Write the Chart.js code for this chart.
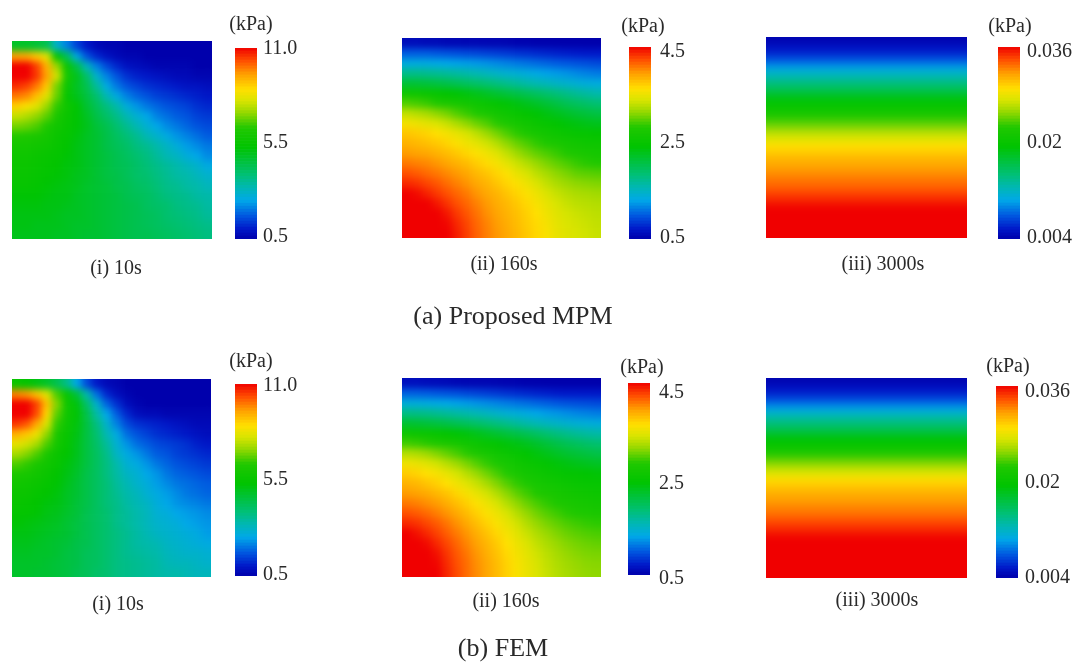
<!DOCTYPE html>
<html>
<head>
<meta charset="utf-8">
<title>Pore pressure contours</title>
<script src="https://cdn.jsdelivr.net/npm/chart.js@4/dist/chart.umd.min.js"></script>
<style>
    html, body { margin: 0; padding: 0; background: #fff; }
    #page { position: relative; width: 1080px; height: 667px; overflow: hidden; font-family: "Liberation Serif", serif; color: #2a2a2a; }
    .panel { position: absolute; overflow: hidden; }
    .panel canvas { position: absolute; filter: blur(3.5px); }
    .bar { position: absolute; }
    .bar canvas { filter: blur(0.4px); }
    .label { position: absolute; white-space: nowrap; transform: translate(-50%, -50%); filter: blur(0.4px); }
</style>
</head>
<body>
<div id="page"></div>
<script>
// Pressure values in kPa. Rows run top to bottom, columns left to right.
const mpm10s = [
    [5.0,5.0,4.8,4.5,3.0,2.2,1.5,1.0,0.7,0.6,0.6,0.5,0.5,0.5,0.5,0.5,0.5,0.5,0.5,0.5],
    [9.5,9.4,9.0,8.2,5.6,4.4,2.7,1.7,1.2,0.9,0.7,0.6,0.6,0.5,0.5,0.5,0.5,0.5,0.5,0.5],
    [11.0,11.0,10.4,9.3,7.5,5.9,4.6,3.2,2.2,1.6,1.2,0.9,0.8,0.7,0.6,0.6,0.6,0.6,0.5,0.5],
    [11.0,11.0,10.5,9.5,8.0,6.2,5.2,4.2,3.0,2.2,1.7,1.3,1.1,1.0,0.9,0.8,0.7,0.7,0.6,0.6],
    [10.6,10.4,9.9,9.0,7.2,5.9,5.1,4.5,3.6,2.7,2.1,1.7,1.5,1.3,1.2,1.1,1.0,0.9,0.9,0.8],
    [9.9,9.7,9.1,8.2,7.1,5.7,5.2,4.7,4.1,3.3,2.7,2.2,1.9,1.7,1.5,1.4,1.3,1.2,1.1,1.0],
    [8.9,8.6,8.2,7.5,6.7,6.0,5.5,4.9,4.4,3.9,3.4,2.8,2.4,2.1,1.9,1.7,1.6,1.5,1.3,1.2],
    [7.9,7.7,7.4,7.0,6.4,5.9,5.5,5.1,4.6,4.2,3.8,3.3,2.9,2.6,2.2,2.0,1.8,1.7,1.5,1.4],
    [7.2,7.1,6.9,6.5,6.1,5.8,5.5,5.2,4.8,4.5,4.1,3.7,3.3,2.9,2.6,2.3,2.1,1.9,1.7,1.6],
    [6.6,6.5,6.4,6.2,5.9,5.7,5.4,5.1,4.9,4.6,4.3,4.0,3.7,3.3,3.0,2.7,2.4,2.2,2.0,1.8],
    [6.2,6.2,6.1,6.0,5.8,5.6,5.3,5.1,4.9,4.6,4.4,4.2,3.9,3.7,3.4,3.1,2.8,2.5,2.3,2.1],
    [6.0,6.0,5.9,5.8,5.7,5.5,5.3,5.1,4.9,4.7,4.5,4.3,4.1,3.9,3.6,3.3,3.1,2.8,2.6,2.3],
    [5.9,5.9,5.8,5.7,5.6,5.4,5.3,5.1,4.9,4.7,4.5,4.4,4.2,4.0,3.8,3.6,3.4,3.2,3.0,2.7],
    [5.8,5.8,5.7,5.6,5.5,5.4,5.2,5.1,4.9,4.7,4.6,4.4,4.2,4.1,3.9,3.7,3.5,3.4,3.2,3.0],
    [5.7,5.7,5.6,5.5,5.4,5.3,5.2,5.0,4.9,4.8,4.6,4.5,4.3,4.2,4.0,3.8,3.7,3.5,3.4,3.2],
    [5.5,5.5,5.5,5.4,5.3,5.3,5.1,5.0,4.9,4.8,4.7,4.5,4.4,4.3,4.1,3.9,3.8,3.7,3.5,3.4],
    [5.4,5.4,5.4,5.3,5.3,5.2,5.1,5.0,4.9,4.8,4.7,4.6,4.5,4.3,4.2,4.1,3.9,3.8,3.7,3.5],
    [5.3,5.3,5.3,5.3,5.2,5.1,5.1,5.0,4.9,4.8,4.7,4.6,4.5,4.4,4.3,4.1,4.0,3.9,3.8,3.6],
    [5.3,5.3,5.2,5.2,5.2,5.1,5.0,5.0,4.9,4.8,4.7,4.6,4.5,4.4,4.3,4.2,4.1,4.0,3.9,3.8],
    [5.2,5.2,5.2,5.2,5.1,5.1,5.0,4.9,4.9,4.8,4.7,4.6,4.5,4.5,4.4,4.3,4.2,4.1,4.0,3.9]
];

const mpm160s = [
    [0.60,0.60,0.58,0.58,0.56,0.56,0.55,0.55,0.54,0.54,0.53,0.52,0.52,0.51,0.51,0.50,0.50,0.50,0.50,0.50],
    [1.00,1.00,1.00,0.98,0.96,0.94,0.92,0.90,0.88,0.86,0.84,0.82,0.80,0.78,0.76,0.74,0.72,0.71,0.70,0.70],
    [1.35,1.35,1.34,1.32,1.30,1.28,1.26,1.24,1.21,1.18,1.15,1.12,1.09,1.06,1.03,1.00,0.98,0.96,0.94,0.92],
    [1.75,1.75,1.73,1.71,1.68,1.65,1.61,1.57,1.52,1.47,1.43,1.40,1.36,1.32,1.28,1.25,1.22,1.18,1.15,1.12],
    [2.15,2.14,2.12,2.09,2.05,2.00,1.95,1.90,1.85,1.80,1.74,1.68,1.62,1.57,1.53,1.48,1.44,1.40,1.37,1.35],
    [2.60,2.58,2.55,2.50,2.45,2.40,2.35,2.30,2.24,2.18,2.12,2.06,2.00,1.94,1.88,1.82,1.76,1.70,1.65,1.60],
    [2.95,2.92,2.88,2.82,2.76,2.70,2.64,2.58,2.52,2.46,2.40,2.34,2.28,2.22,2.15,2.08,2.00,1.95,1.90,1.85],
    [3.30,3.25,3.20,3.12,3.05,2.95,2.88,2.80,2.72,2.65,2.58,2.52,2.46,2.40,2.34,2.28,2.22,2.16,2.12,2.08],
    [3.55,3.50,3.45,3.40,3.32,3.22,3.12,3.02,2.94,2.84,2.76,2.68,2.62,2.56,2.50,2.44,2.38,2.34,2.30,2.28],
    [3.75,3.72,3.68,3.62,3.55,3.47,3.38,3.28,3.16,3.05,2.94,2.85,2.77,2.70,2.64,2.58,2.54,2.50,2.48,2.46],
    [3.85,3.82,3.78,3.74,3.68,3.60,3.52,3.45,3.35,3.25,3.12,3.02,2.94,2.86,2.80,2.74,2.68,2.64,2.60,2.58],
    [3.95,3.92,3.90,3.85,3.80,3.74,3.67,3.60,3.52,3.42,3.30,3.18,3.08,3.00,2.94,2.88,2.82,2.76,2.72,2.68],
    [4.08,4.05,4.02,3.97,3.91,3.85,3.80,3.72,3.65,3.56,3.45,3.34,3.25,3.15,3.07,3.00,2.94,2.88,2.84,2.82],
    [4.22,4.18,4.13,4.08,4.02,3.96,3.90,3.82,3.76,3.68,3.60,3.48,3.38,3.28,3.20,3.12,3.06,3.00,2.98,2.96],
    [4.36,4.32,4.26,4.20,4.12,4.05,3.98,3.90,3.84,3.76,3.68,3.60,3.50,3.40,3.30,3.22,3.16,3.12,3.10,3.08],
    [4.50,4.46,4.38,4.30,4.22,4.14,4.07,3.98,3.90,3.84,3.76,3.68,3.60,3.50,3.40,3.32,3.26,3.22,3.20,3.18],
    [4.50,4.50,4.50,4.42,4.32,4.22,4.14,4.05,3.96,3.88,3.82,3.74,3.66,3.57,3.47,3.38,3.32,3.28,3.26,3.24],
    [4.50,4.50,4.50,4.50,4.42,4.30,4.20,4.10,4.00,3.92,3.85,3.78,3.70,3.62,3.52,3.43,3.37,3.33,3.30,3.28],
    [4.50,4.50,4.50,4.50,4.48,4.36,4.25,4.14,4.04,3.95,3.88,3.80,3.72,3.65,3.56,3.46,3.40,3.36,3.33,3.30],
    [4.50,4.50,4.50,4.50,4.50,4.40,4.28,4.16,4.06,3.97,3.90,3.82,3.74,3.66,3.58,3.48,3.42,3.38,3.35,3.32]
];

const mpm3000s = [
    0.0043,0.0050,0.0056,0.0066,0.0078,0.0094,0.0110,0.0123,0.0136,0.0149,
    0.0162,0.0178,0.0190,0.0200,0.0210,0.0222,0.0232,0.0242,0.0254,0.0267,
    0.0277,0.0290,0.0296,0.0302,0.0309,0.0312,0.0318,0.0322,0.0328,0.0331,
    0.0338,0.0344,0.0350,0.0357,0.0360,0.0360,0.0360,0.0360,0.0360,0.0360
];

const fem10s = [
    [5.8,5.6,5.3,5.0,4.5,3.8,2.6,1.6,1.0,0.7,0.6,0.5,0.5,0.5,0.5,0.5,0.5,0.5,0.5,0.5],
    [9.8,9.6,9.1,8.2,6.9,5.8,4.8,3.4,2.0,1.2,0.8,0.6,0.5,0.5,0.5,0.5,0.5,0.5,0.5,0.5],
    [11.0,11.0,10.4,9.1,7.3,6.0,5.4,4.2,3.0,1.9,1.3,0.8,0.6,0.5,0.5,0.5,0.5,0.5,0.5,0.5],
    [11.0,11.0,10.3,8.8,7.0,6.0,5.5,4.6,3.5,2.6,1.8,1.2,0.8,0.7,0.7,0.6,0.6,0.6,0.6,0.6],
    [10.5,10.2,9.4,8.1,6.7,5.9,5.4,4.7,3.9,3.0,2.2,1.6,1.3,1.2,1.1,1.0,0.9,0.8,0.7,0.7],
    [9.3,9.0,8.4,7.4,6.4,5.8,5.3,4.7,4.1,3.3,2.7,2.0,1.7,1.5,1.3,1.2,1.1,1.0,0.9,0.8],
    [8.3,8.0,7.6,6.9,6.2,5.7,5.2,4.7,4.2,3.6,2.9,2.4,2.0,1.8,1.6,1.5,1.4,1.3,1.1,1.0],
    [7.6,7.3,6.9,6.4,5.9,5.6,5.2,4.7,4.3,3.8,3.1,2.7,2.4,2.1,1.8,1.7,1.5,1.4,1.3,1.2],
    [6.9,6.7,6.4,6.1,5.8,5.4,5.1,4.7,4.3,3.9,3.4,2.9,2.7,2.4,2.1,1.9,1.7,1.6,1.5,1.4],
    [6.4,6.3,6.1,5.9,5.6,5.3,5.0,4.6,4.3,3.9,3.5,3.1,2.9,2.6,2.4,2.1,1.9,1.8,1.7,1.6],
    [6.1,6.0,5.9,5.7,5.5,5.2,4.9,4.6,4.3,4.0,3.6,3.3,3.0,2.8,2.5,2.3,2.1,2.0,1.9,1.8],
    [5.9,5.9,5.7,5.6,5.4,5.1,4.9,4.6,4.3,4.0,3.7,3.4,3.2,2.9,2.7,2.5,2.3,2.1,2.0,1.9],
    [5.8,5.7,5.6,5.4,5.3,5.1,4.8,4.6,4.3,4.0,3.8,3.5,3.3,3.1,2.8,2.6,2.4,2.3,2.2,2.1],
    [5.6,5.6,5.5,5.3,5.2,5.0,4.8,4.5,4.3,4.1,3.8,3.6,3.4,3.2,2.9,2.8,2.6,2.5,2.4,2.3],
    [5.5,5.4,5.3,5.2,5.1,4.9,4.7,4.5,4.3,4.1,3.8,3.6,3.4,3.2,3.0,2.9,2.8,2.6,2.5,2.4],
    [5.3,5.3,5.2,5.1,5.0,4.9,4.7,4.5,4.3,4.1,3.9,3.7,3.5,3.3,3.1,3.0,2.9,2.8,2.7,2.5],
    [5.2,5.2,5.1,5.0,4.9,4.8,4.6,4.5,4.3,4.1,3.9,3.7,3.5,3.4,3.3,3.1,3.0,2.9,2.8,2.7],
    [5.1,5.1,5.0,5.0,4.9,4.7,4.6,4.4,4.3,4.1,3.9,3.7,3.6,3.5,3.4,3.2,3.1,3.0,3.0,2.9],
    [5.0,5.0,5.0,4.9,4.8,4.7,4.6,4.4,4.3,4.1,3.9,3.8,3.7,3.6,3.5,3.3,3.2,3.2,3.1,3.0],
    [5.0,5.0,4.9,4.9,4.8,4.7,4.5,4.4,4.2,4.1,3.9,3.8,3.7,3.6,3.5,3.4,3.4,3.3,3.2,3.2]
];

const fem160s = [
    [0.62,0.62,0.60,0.59,0.58,0.56,0.55,0.54,0.54,0.53,0.52,0.52,0.51,0.51,0.50,0.50,0.50,0.50,0.50,0.50],
    [1.02,1.01,1.00,0.98,0.96,0.94,0.91,0.89,0.86,0.84,0.81,0.79,0.77,0.75,0.73,0.71,0.70,0.70,0.70,0.70],
    [1.38,1.37,1.35,1.33,1.31,1.28,1.25,1.22,1.19,1.16,1.13,1.10,1.07,1.04,1.01,0.98,0.96,0.94,0.93,0.92],
    [1.78,1.77,1.75,1.72,1.68,1.64,1.60,1.56,1.51,1.46,1.41,1.38,1.34,1.30,1.26,1.23,1.20,1.17,1.15,1.13],
    [2.18,2.16,2.13,2.10,2.06,2.01,1.96,1.91,1.85,1.80,1.74,1.67,1.61,1.56,1.51,1.47,1.43,1.40,1.38,1.36],
    [2.58,2.56,2.54,2.50,2.46,2.40,2.36,2.30,2.24,2.18,2.12,2.06,2.00,1.93,1.86,1.80,1.74,1.69,1.65,1.62],
    [2.90,2.88,2.84,2.80,2.74,2.68,2.62,2.56,2.50,2.44,2.38,2.33,2.27,2.20,2.13,2.06,2.00,1.95,1.90,1.86],
    [3.25,3.22,3.16,3.08,3.00,2.92,2.84,2.76,2.68,2.61,2.55,2.48,2.42,2.36,2.30,2.24,2.18,2.14,2.10,2.06],
    [3.52,3.48,3.42,3.35,3.26,3.16,3.06,2.95,2.86,2.76,2.68,2.61,2.55,2.49,2.44,2.38,2.34,2.30,2.27,2.24],
    [3.72,3.68,3.62,3.56,3.47,3.37,3.26,3.14,3.03,2.92,2.82,2.72,2.65,2.59,2.54,2.50,2.46,2.44,2.42,2.40],
    [3.85,3.82,3.76,3.70,3.62,3.52,3.42,3.32,3.20,3.08,2.96,2.86,2.77,2.70,2.65,2.60,2.56,2.52,2.50,2.48],
    [3.95,3.92,3.88,3.82,3.76,3.67,3.57,3.47,3.36,3.24,3.11,2.99,2.90,2.82,2.76,2.71,2.66,2.62,2.59,2.57],
    [4.08,4.05,4.00,3.95,3.87,3.79,3.70,3.60,3.50,3.38,3.25,3.13,3.02,2.93,2.86,2.80,2.75,2.71,2.68,2.66],
    [4.22,4.18,4.13,4.06,3.98,3.89,3.80,3.70,3.60,3.50,3.38,3.26,3.14,3.04,2.96,2.90,2.84,2.80,2.77,2.75],
    [4.36,4.32,4.25,4.18,4.09,3.99,3.89,3.79,3.69,3.59,3.48,3.36,3.24,3.14,3.06,3.00,2.94,2.90,2.87,2.85],
    [4.50,4.44,4.36,4.27,4.17,4.07,3.97,3.87,3.77,3.67,3.56,3.44,3.33,3.23,3.15,3.08,3.02,2.98,2.95,2.93],
    [4.50,4.50,4.46,4.36,4.25,4.14,4.03,3.93,3.83,3.73,3.62,3.51,3.40,3.30,3.22,3.15,3.09,3.05,3.02,3.00],
    [4.50,4.50,4.50,4.44,4.31,4.19,4.08,3.97,3.87,3.77,3.66,3.55,3.45,3.35,3.27,3.20,3.14,3.10,3.07,3.06],
    [4.50,4.50,4.50,4.48,4.35,4.22,4.11,4.00,3.90,3.80,3.69,3.58,3.48,3.38,3.30,3.23,3.18,3.14,3.11,3.10],
    [4.50,4.50,4.50,4.50,4.37,4.24,4.12,4.01,3.91,3.81,3.70,3.59,3.49,3.40,3.32,3.25,3.20,3.16,3.13,3.12]
];

const fem3000s = [
    0.0043,0.0050,0.0056,0.0066,0.0078,0.0094,0.0110,0.0126,0.0139,0.0152,
    0.0165,0.0181,0.0194,0.0203,0.0216,0.0229,0.0242,0.0254,0.0267,0.0280,
    0.0293,0.0299,0.0306,0.0312,0.0315,0.0322,0.0325,0.0331,0.0338,0.0344,
    0.0350,0.0357,0.0360,0.0360,0.0360,0.0360,0.0360,0.0360,0.0360,0.0360
];

// Colour bar tick labels and where they sit on the bar (the figure spaces them evenly)
const ticks10s = ['0.5', '5.5', '11.0'];
const tickAt10s = [0.65, 5.8, 10.95];
const ticks160s = ['0.5', '2.5', '4.5'];
const tickAt160s = [0.52, 2.5, 4.4];
const ticks3000s = ['0.004', '0.02', '0.036'];
const tickAt3000s = [0.0042, 0.02, 0.0352];
const rowCaptions = ['(a) Proposed MPM', '(b) FEM'];
const panelCaptions = ['(i) 10s', '(ii) 160s', '(iii) 3000s'];
const unitLabel = '(kPa)';

// Colour ramp as seen on the bars: [position, r, g, b]
const ramp = [
    [0, 0, 0, 172], [0.05, 0, 24, 200], [0.12, 0, 88, 224], [0.2, 0, 168, 232],
    [0.27, 0, 184, 176], [0.34, 0, 192, 112], [0.48, 0, 196, 0], [0.58, 32, 200, 0],
    [0.66, 150, 216, 0], [0.72, 216, 228, 0], [0.78, 255, 224, 0], [0.86, 255, 160, 0],
    [0.93, 255, 80, 0], [1, 240, 0, 0]
];

function rampColor(f) {
    f = Math.min(1, Math.max(0, f));
    let i = 0;
    while (i < ramp.length - 2 && f > ramp[i + 1][0]) i++;
    const a = ramp[i], b = ramp[i + 1];
    const t = (f - a[0]) / (b[0] - a[0]);
    const c = [1, 2, 3].map(k => Math.round(a[k] + (b[k] - a[k]) * t));
    return `rgb(${c[0]},${c[1]},${c[2]})`;
}

const page = document.getElementById('page');

function addLabel(text, x, y, size) {
    const el = document.createElement('div');
    el.className = 'label';
    el.textContent = text;
    el.style.left = x + 'px';
    el.style.top = y + 'px';
    el.style.fontSize = size + 'px';
    page.appendChild(el);
}

// Heat map: stacked bars, one dataset per row. The edge cells are repeated outside
// the clip box so the blur does not fade at the borders.
function drawHeatmap(grid, min, max, box) {
    const cellW = box.w / grid[0].length, cellH = box.h / grid.length;
    const padX = Math.ceil(8 / cellW), padY = Math.ceil(8 / cellH);
    const offX = padX * cellW, offY = padY * cellH;
    const widen = row => [...Array(padX).fill(row[0]), ...row, ...Array(padX).fill(row[row.length - 1])];
    const cells = [
        ...Array(padY).fill(grid[0]),
        ...grid,
        ...Array(padY).fill(grid[grid.length - 1])
    ].map(widen);

    const wrap = document.createElement('div');
    wrap.className = 'panel';
    wrap.style.cssText = `left:${box.x}px;top:${box.y}px;width:${box.w}px;height:${box.h}px`;
    const holder = document.createElement('div');
    holder.style.cssText = `position:absolute;left:${-offX}px;top:${-offY}px;width:${box.w + offX * 2}px;height:${box.h + offY * 2}px`;
    const canvas = document.createElement('canvas');
    holder.appendChild(canvas);
    wrap.appendChild(holder);
    page.appendChild(wrap);

    new Chart(canvas, {
        type: 'bar',
        data: {
            labels: cells[0].map((v, i) => i),
            datasets: cells.map(row => ({
                data: row.map(() => 1),
                backgroundColor: row.map(v => rampColor((v - min) / (max - min))),
                barPercentage: 1,
                categoryPercentage: 1
            }))
        },
        options: {
            responsive: true,
            maintainAspectRatio: false,
            animation: false,
            layout: { padding: 0 },
            plugins: { legend: { display: false }, tooltip: { enabled: false } },
            scales: {
                x: { stacked: true, display: false },
                y: { stacked: true, display: false, reverse: true, min: 0, max: cells.length }
            }
        }
    });
}

// Colour bar: floating bars on a real value axis, labels from the tick list
function drawColorBar(tickLabels, tickValues, min, max, box, gap, shift) {
    const pad = 14, axisWidth = 72, steps = 64;
    const holder = document.createElement('div');
    holder.className = 'bar';
    holder.style.cssText = `left:${box.x}px;top:${box.y - pad}px;width:${box.w + axisWidth}px;height:${box.h + pad * 2}px`;
    const canvas = document.createElement('canvas');
    holder.appendChild(canvas);
    page.appendChild(holder);

    const datasets = [];
    for (let i = 0; i < steps; i++) {
        const lo = min + (max - min) * i / steps;
        const hi = min + (max - min) * (i + 1) / steps;
        datasets.push({
            data: [[lo, hi]],
            backgroundColor: rampColor((i + 0.5) / steps),
            barPercentage: 1,
            categoryPercentage: 1
        });
    }

    new Chart(canvas, {
        type: 'bar',
        data: { labels: [''], datasets },
        options: {
            responsive: true,
            maintainAspectRatio: false,
            animation: false,
            layout: { padding: { top: pad, bottom: pad, left: 0, right: 0 } },
            plugins: { legend: { display: false }, tooltip: { enabled: false } },
            scales: {
                x: { display: false, stacked: true },
                y: {
                    position: 'right',
                    stacked: false,
                    min,
                    max,
                    grid: { display: false, tickLength: 0 },
                    border: { display: false },
                    afterFit: scale => {
                        scale.width = axisWidth;
                        scale.paddingTop = 0;
                        scale.paddingBottom = 0;
                    },
                    afterBuildTicks: scale => { scale.ticks = tickValues.map(value => ({ value })); },
                    ticks: {
                        autoSkip: false,
                        maxRotation: 0,
                        padding: gap,
                        labelOffset: shift,
                        color: '#2a2a2a',
                        font: { family: '"Liberation Serif", serif', size: 20 },
                        callback: (value) => tickLabels[tickValues.indexOf(value)]
                    }
                }
            }
        }
    });
}

drawHeatmap(mpm10s, 0.5, 11, { x: 12, y: 41, w: 200, h: 198 });
drawHeatmap(mpm160s, 0.5, 4.5, { x: 402, y: 38, w: 199, h: 200 });
drawHeatmap(mpm3000s.map(v => [v]), 0.004, 0.036, { x: 766, y: 37, w: 201, h: 201 });
drawHeatmap(fem10s, 0.5, 11, { x: 12, y: 379, w: 199, h: 198 });
drawHeatmap(fem160s, 0.5, 4.5, { x: 402, y: 378, w: 199, h: 199 });
drawHeatmap(fem3000s.map(v => [v]), 0.004, 0.036, { x: 766, y: 378, w: 201, h: 200 });

drawColorBar(ticks10s, tickAt10s, 0.5, 11, { x: 235, y: 48, w: 22, h: 191 }, 6, 0);
drawColorBar(ticks160s, tickAt160s, 0.5, 4.5, { x: 629, y: 47, w: 22, h: 192 }, 9, 0);
drawColorBar(ticks3000s, tickAt3000s, 0.004, 0.036, { x: 998, y: 47, w: 22, h: 192 }, 7, 0);
drawColorBar(ticks10s, tickAt10s, 0.5, 11, { x: 235, y: 384, w: 22, h: 192 }, 6, 1);
drawColorBar(ticks160s, tickAt160s, 0.5, 4.5, { x: 628, y: 383, w: 22, h: 192 }, 9, 5);
drawColorBar(ticks3000s, tickAt3000s, 0.004, 0.036, { x: 996, y: 386, w: 22, h: 192 }, 7, 1);

addLabel(unitLabel, 251, 23, 20);
addLabel(unitLabel, 643, 25, 20);
addLabel(unitLabel, 1010, 25, 20);
addLabel(unitLabel, 251, 360, 20);
addLabel(unitLabel, 642, 366, 20);
addLabel(unitLabel, 1008, 365, 20);

addLabel(panelCaptions[0], 116, 267, 20);
addLabel(panelCaptions[1], 504, 263, 20);
addLabel(panelCaptions[2], 883, 263, 20);
addLabel(panelCaptions[0], 118, 603, 20);
addLabel(panelCaptions[1], 506, 600, 20);
addLabel(panelCaptions[2], 877, 599, 20);

addLabel(rowCaptions[0], 513, 316, 26);
addLabel(rowCaptions[1], 503, 648, 26);
</script>
</body>
</html>
